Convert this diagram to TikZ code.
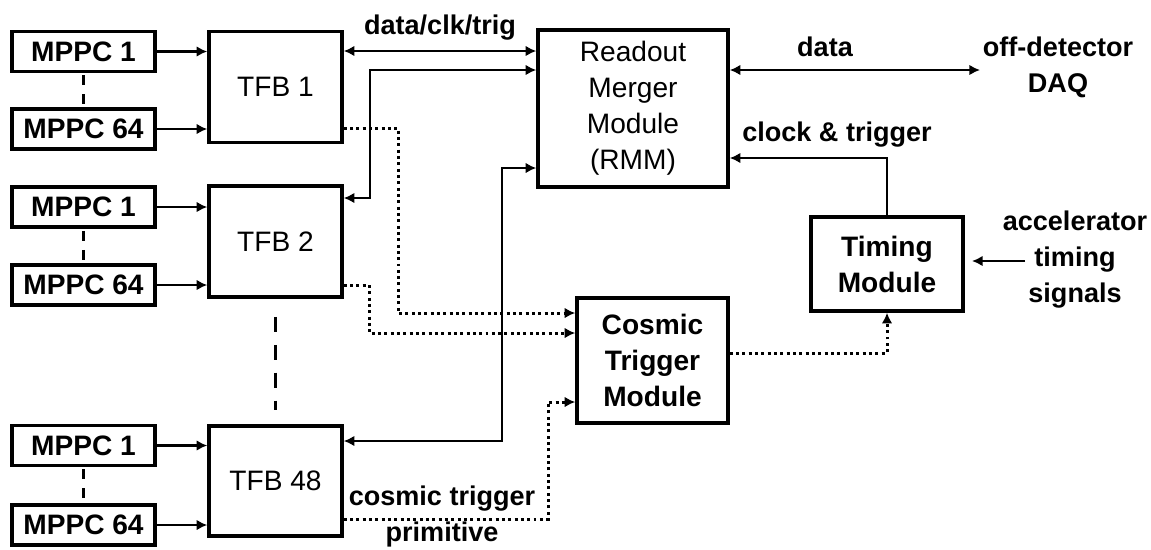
\documentclass[tikz,border=0pt]{standalone}
\usepackage{fontspec}
\setmainfont{Liberation Sans}
\usetikzlibrary{arrows.meta}

\begin{document}
\begin{tikzpicture}[x=0.02cm,y=-0.02cm,
  txt/.style={font=\fontsize{16}{20.5}\selectfont},
  btxt/.style={font=\bfseries\fontsize{16}{20.5}\selectfont},
  ltxt/.style={font=\bfseries\fontsize{15.4}{20.5}\selectfont},
  box/.style={draw,line width=2pt,inner sep=0pt,align=center},
  mppc/.style={box,btxt,minimum width=2.86cm,minimum height=0.8cm},
  tfb/.style={box,txt,minimum width=2.66cm,minimum height=2.22cm},
  lbl/.style={ltxt,align=center,inner sep=0pt},
  tip/.style={-{Latex[length=6pt,width=6pt]}},
  link/.style={tip,line width=1.5pt},
  dbl/.style={{Latex[length=6pt,width=6pt]}-{Latex[length=6pt,width=6pt]},line width=1.5pt},
  dots/.style={tip,line width=1.7pt,dash pattern=on 1.7pt off 1.9pt},
  gapline/.style={line width=1.7pt,dash pattern=on 0.2cm off 0.18cm}
]
\useasboundingbox (0,0) rectangle (1151,549);

% front-end boards and their sensors
\node[mppc] (a1)  at (83.5,51.5) {MPPC 1};
\node[mppc] (a64) at (83.5,129)  {MPPC 64};
\node[mppc] (b1)  at (83.5,207)  {MPPC 1};
\node[mppc] (b64) at (83.5,285)  {MPPC 64};
\node[mppc] (c1)  at (83.5,445.5){MPPC 1};
\node[mppc] (c64) at (83.5,525)  {MPPC 64};

\node[tfb] (t1)  at (275.5,87)    {TFB 1};
\node[tfb] (t2)  at (275.5,241.5) {TFB 2};
\node[tfb,minimum height=2.2cm] (t48) at (275.5,481) {TFB 48};

% back-end modules
\node[box,txt,minimum width=3.8cm,minimum height=3.14cm] (rmm) at (633,108.5)
  {Readout\\Merger\\Module\\(RMM)};
\node[box,btxt,minimum width=3.02cm,minimum height=2.5cm] (ctm) at (652.5,360.5)
  {Cosmic\\Trigger\\Module};
\node[box,btxt,minimum width=3.04cm,minimum height=1.88cm] (tm) at (887,264)
  {Timing\\Module};

% sensor to board links
\foreach \m/\t in {a1/t1,a64/t1,b1/t2,b64/t2,c1/t48,c64/t48}
  \draw[link] (\m.east) -- (\m.east -| \t.west);

% elision marks
\draw[gapline] ([yshift=-0.04cm]a1.south) -- ([yshift=0.04cm]a64.north);
\draw[gapline] ([yshift=-0.04cm]b1.south) -- ([yshift=0.04cm]b64.north);
\draw[gapline] ([yshift=-0.04cm]c1.south) -- ([yshift=0.04cm]c64.north);
\draw[line width=1.7pt,dash pattern=on 0.3cm off 0.26cm]
  ([yshift=-0.36cm]t2.south) -- ([yshift=0.28cm]t48.north);

% bus levels and corners
\coordinate (y1) at (0,51);
\coordinate (k2a) at (370,198);
\coordinate (k2b) at (370,70);
\coordinate (k3a) at (502,441);
\coordinate (k3b) at (502,168);
\coordinate (daq) at (980,70);
\coordinate (ck) at (887,158);
\coordinate (acc) at (1025,261);
\coordinate (tmin) at (972,261);
\coordinate (d1a) at (398,128);
\coordinate (d1b) at (398,313);
\coordinate (d2a) at (369,285);
\coordinate (d2b) at (369,333);
\coordinate (d3a) at (548,519);
\coordinate (d3b) at (548,402);
\coordinate (d4) at (887,353);

% data / clock / trigger between boards and the merger
\draw[dbl] (t1.east |- y1) -- (rmm.west |- y1);
\draw[dbl] (t2.east |- k2a) -- (k2a) -- (k2b) -- (rmm.west |- k2b);
\draw[dbl] (t48.east |- k3a) -- (k3a) -- (k3b) -- (rmm.west |- k3b);

% merger to DAQ, timing to merger
\draw[dbl] (rmm.east |- daq) -- (daq);
\draw[link] (tm.north) -- (ck) -- (rmm.east |- ck);
\draw[link] (acc) -- (tmin);

% cosmic trigger primitives
\draw[dots] (t1.east |- d1a) -- (d1a) -- (d1b) -- (ctm.west |- d1b);
\draw[dots] (t2.east |- d2a) -- (d2a) -- (d2b) -- (ctm.west |- d2b);
\draw[dots] (t48.east |- d3a) -- (d3a) -- (d3b) -- (ctm.west |- d3b);
\draw[dots] (ctm.east |- d4) -- (d4) -- (tm.south);

% labels
\node[lbl] (ldct) at (440,28) {data/clk/trig};
\node[lbl] (ldata) at (825,47) {data};
\node[lbl] (ldaq) at (1058,67.5) {off-detector\\DAQ};
\node[lbl] (lck) at (837,135) {clock \& trigger};
\node[lbl] (lacc) at (1075,260) {accelerator\\timing\\signals};
\node[lbl] (lctp) at (442,516.5) {cosmic trigger\\primitive};
\end{tikzpicture}
\end{document}
